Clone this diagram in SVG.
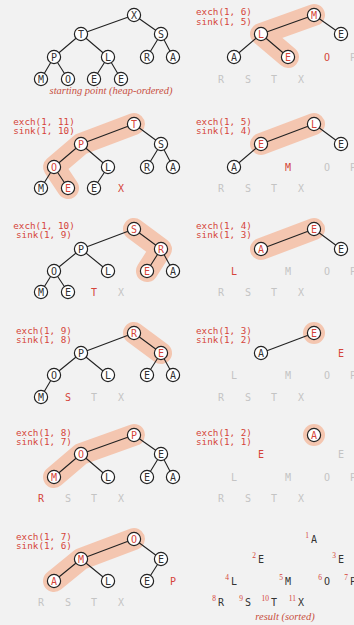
<svg xmlns="http://www.w3.org/2000/svg" width="354" height="625" viewBox="0 0 354 625">
<style>
.bg{fill:#f2f2f2}
.hl{fill:none;stroke:#f4c6b0;stroke-width:22;stroke-linecap:round;stroke-linejoin:round}
.hlc{fill:#f4c6b0}
.e{fill:none;stroke:#222;stroke-width:1.1}
.n circle{fill:#fff;stroke:#222;stroke-width:1.2}
text{font-family:"DejaVu Sans Mono","Liberation Mono",monospace;font-size:10px;text-anchor:middle}
.k{fill:#333}
.r{fill:#d5453a}
.g{fill:#c4c4c4}
.lab{fill:#d5453a;font-size:9.3px}
.cap{font-family:"Liberation Serif",serif;font-style:italic;font-size:10.5px;fill:#c8503f}
.num{font-family:"Liberation Serif",serif;font-size:7.5px;fill:#d5453a;text-anchor:end}
</style>
<rect class="bg" x="0" y="0" width="354" height="625"/>
<g id="highlights">
<path class="hl" d="M134 124L81 144L54 167L68 188"/>
<path class="hl" d="M134 229L161 249L147 271"/>
<path class="hl" d="M134 333L161 353"/>
<path class="hl" d="M134 435L81 454L54 477"/>
<path class="hl" d="M134 539L81 559L54 581"/>
<path class="hl" d="M314 15L261 34L288 57"/>
<path class="hl" d="M314 124L261 144"/>
<path class="hl" d="M314 229L261 249"/>
<circle class="hlc" cx="314" cy="333" r="11"/>
<circle class="hlc" cx="314" cy="435" r="11"/>
</g>
<g id="connectors">
<path class="e" d="M134 15L81 34M134 15L161 34M81 34L54 57M81 34L108 57M161 34L147 57M161 34L173 57M54 57L41 79M54 57L68 79M108 57L94 79M108 57L121 79"/>
<path class="e" d="M134 124L81 144M134 124L161 144M81 144L54 167M81 144L108 167M161 144L147 167M161 144L173 167M54 167L41 188M54 167L68 188M108 167L94 188"/>
<path class="e" d="M134 229L81 249M134 229L161 249M81 249L54 271M81 249L108 271M161 249L147 271M161 249L173 271M54 271L41 292M54 271L68 292"/>
<path class="e" d="M134 333L81 353M134 333L161 353M81 353L54 375M81 353L108 375M161 353L147 375M161 353L173 375M54 375L41 397"/>
<path class="e" d="M134 435L81 454M134 435L161 454M81 454L54 477M81 454L108 477M161 454L147 477M161 454L173 477"/>
<path class="e" d="M134 539L81 559M134 539L161 559M81 559L54 581M81 559L108 581M161 559L147 581"/>
<path class="e" d="M314 15L261 34M314 15L341 34M261 34L234 57M261 34L288 57"/>
<path class="e" d="M314 124L261 144M314 124L341 144M261 144L234 167"/>
<path class="e" d="M314 229L261 249M314 229L341 249"/>
<path class="e" d="M314 333L261 353"/>
</g>
<!-- Row 1 left: starting point -->
<g id="r1l">
<g id="r1l-1" class="n"><circle cx="134" cy="15" r="6.6"/><text class="k" x="134" y="18.6">X</text></g>
<g id="r1l-2" class="n"><circle cx="81" cy="34" r="6.6"/><text class="k" x="81" y="37.6">T</text></g>
<g id="r1l-3" class="n"><circle cx="161" cy="34" r="6.6"/><text class="k" x="161" y="37.6">S</text></g>
<g id="r1l-4" class="n"><circle cx="54" cy="57" r="6.6"/><text class="k" x="54" y="60.6">P</text></g>
<g id="r1l-5" class="n"><circle cx="108" cy="57" r="6.6"/><text class="k" x="108" y="60.6">L</text></g>
<g id="r1l-6" class="n"><circle cx="147" cy="57" r="6.6"/><text class="k" x="147" y="60.6">R</text></g>
<g id="r1l-7" class="n"><circle cx="173" cy="57" r="6.6"/><text class="k" x="173" y="60.6">A</text></g>
<g id="r1l-8" class="n"><circle cx="41" cy="79" r="6.6"/><text class="k" x="41" y="82.6">M</text></g>
<g id="r1l-9" class="n"><circle cx="68" cy="79" r="6.6"/><text class="k" x="68" y="82.6">O</text></g>
<g id="r1l-10" class="n"><circle cx="94" cy="79" r="6.6"/><text class="k" x="94" y="82.6">E</text></g>
<g id="r1l-11" class="n"><circle cx="121" cy="79" r="6.6"/><text class="k" x="121" y="82.6">E</text></g>
<text class="cap" x="111" y="94">starting point (heap-ordered)</text>
</g>
<!-- Row 2 left -->
<g id="r2l">
<text class="lab" x="44" y="125">exch(1, 11)</text>
<text class="lab" x="44" y="134">sink(1, 10)</text>
<g id="r2l-1" class="n"><circle cx="134" cy="124" r="6.6"/><text class="r" x="134" y="127.6">T</text></g>
<g id="r2l-2" class="n"><circle cx="81" cy="144" r="6.6"/><text class="r" x="81" y="147.6">P</text></g>
<g id="r2l-3" class="n"><circle cx="161" cy="144" r="6.6"/><text class="k" x="161" y="147.6">S</text></g>
<g id="r2l-4" class="n"><circle cx="54" cy="167" r="6.6"/><text class="r" x="54" y="170.6">O</text></g>
<g id="r2l-5" class="n"><circle cx="108" cy="167" r="6.6"/><text class="k" x="108" y="170.6">L</text></g>
<g id="r2l-6" class="n"><circle cx="147" cy="167" r="6.6"/><text class="k" x="147" y="170.6">R</text></g>
<g id="r2l-7" class="n"><circle cx="173" cy="167" r="6.6"/><text class="k" x="173" y="170.6">A</text></g>
<g id="r2l-8" class="n"><circle cx="41" cy="188" r="6.6"/><text class="k" x="41" y="191.6">M</text></g>
<g id="r2l-9" class="n"><circle cx="68" cy="188" r="6.6"/><text class="r" x="68" y="191.6">E</text></g>
<g id="r2l-10" class="n"><circle cx="94" cy="188" r="6.6"/><text class="k" x="94" y="191.6">E</text></g>
<text class="r" x="121" y="191.6">X</text>
</g>
<!-- Row 3 left -->
<g id="r3l">
<text class="lab" x="44" y="229">exch(1, 10)</text>
<text class="lab" x="44" y="238">sink(1, 9)</text>
<g id="r3l-1" class="n"><circle cx="134" cy="229" r="6.6"/><text class="r" x="134" y="232.6">S</text></g>
<g id="r3l-2" class="n"><circle cx="81" cy="249" r="6.6"/><text class="k" x="81" y="252.6">P</text></g>
<g id="r3l-3" class="n"><circle cx="161" cy="249" r="6.6"/><text class="r" x="161" y="252.6">R</text></g>
<g id="r3l-4" class="n"><circle cx="54" cy="271" r="6.6"/><text class="k" x="54" y="274.6">O</text></g>
<g id="r3l-5" class="n"><circle cx="108" cy="271" r="6.6"/><text class="k" x="108" y="274.6">L</text></g>
<g id="r3l-6" class="n"><circle cx="147" cy="271" r="6.6"/><text class="r" x="147" y="274.6">E</text></g>
<g id="r3l-7" class="n"><circle cx="173" cy="271" r="6.6"/><text class="k" x="173" y="274.6">A</text></g>
<g id="r3l-8" class="n"><circle cx="41" cy="292" r="6.6"/><text class="k" x="41" y="295.6">M</text></g>
<g id="r3l-9" class="n"><circle cx="68" cy="292" r="6.6"/><text class="k" x="68" y="295.6">E</text></g>
<text class="r" x="94" y="295.6">T</text>
<text class="g" x="121" y="295.6">X</text>
</g>
<!-- Row 4 left -->
<g id="r4l">
<text class="lab" x="44" y="334">exch(1, 9)</text>
<text class="lab" x="44" y="343">sink(1, 8)</text>
<g id="r4l-1" class="n"><circle cx="134" cy="333" r="6.6"/><text class="r" x="134" y="336.6">R</text></g>
<g id="r4l-2" class="n"><circle cx="81" cy="353" r="6.6"/><text class="k" x="81" y="356.6">P</text></g>
<g id="r4l-3" class="n"><circle cx="161" cy="353" r="6.6"/><text class="r" x="161" y="356.6">E</text></g>
<g id="r4l-4" class="n"><circle cx="54" cy="375" r="6.6"/><text class="k" x="54" y="378.6">O</text></g>
<g id="r4l-5" class="n"><circle cx="108" cy="375" r="6.6"/><text class="k" x="108" y="378.6">L</text></g>
<g id="r4l-6" class="n"><circle cx="147" cy="375" r="6.6"/><text class="k" x="147" y="378.6">E</text></g>
<g id="r4l-7" class="n"><circle cx="173" cy="375" r="6.6"/><text class="k" x="173" y="378.6">A</text></g>
<g id="r4l-8" class="n"><circle cx="41" cy="397" r="6.6"/><text class="k" x="41" y="400.6">M</text></g>
<text class="r" x="68" y="400.6">S</text>
<text class="g" x="94" y="400.6">T</text>
<text class="g" x="121" y="400.6">X</text>
</g>
<!-- Row 5 left -->
<g id="r5l">
<text class="lab" x="44" y="436">exch(1, 8)</text>
<text class="lab" x="44" y="445">sink(1, 7)</text>
<g id="r5l-1" class="n"><circle cx="134" cy="435" r="6.6"/><text class="r" x="134" y="438.6">P</text></g>
<g id="r5l-2" class="n"><circle cx="81" cy="454" r="6.6"/><text class="r" x="81" y="457.6">O</text></g>
<g id="r5l-3" class="n"><circle cx="161" cy="454" r="6.6"/><text class="k" x="161" y="457.6">E</text></g>
<g id="r5l-4" class="n"><circle cx="54" cy="477" r="6.6"/><text class="r" x="54" y="480.6">M</text></g>
<g id="r5l-5" class="n"><circle cx="108" cy="477" r="6.6"/><text class="k" x="108" y="480.6">L</text></g>
<g id="r5l-6" class="n"><circle cx="147" cy="477" r="6.6"/><text class="k" x="147" y="480.6">E</text></g>
<g id="r5l-7" class="n"><circle cx="173" cy="477" r="6.6"/><text class="k" x="173" y="480.6">A</text></g>
<text class="r" x="41" y="501.6">R</text>
<text class="g" x="68" y="501.6">S</text>
<text class="g" x="94" y="501.6">T</text>
<text class="g" x="121" y="501.6">X</text>
</g>
<!-- Row 6 left -->
<g id="r6l">
<text class="lab" x="44" y="540">exch(1, 7)</text>
<text class="lab" x="44" y="549">sink(1, 6)</text>
<g id="r6l-1" class="n"><circle cx="134" cy="539" r="6.6"/><text class="r" x="134" y="542.6">O</text></g>
<g id="r6l-2" class="n"><circle cx="81" cy="559" r="6.6"/><text class="r" x="81" y="562.6">M</text></g>
<g id="r6l-3" class="n"><circle cx="161" cy="559" r="6.6"/><text class="k" x="161" y="562.6">E</text></g>
<g id="r6l-4" class="n"><circle cx="54" cy="581" r="6.6"/><text class="r" x="54" y="584.6">A</text></g>
<g id="r6l-5" class="n"><circle cx="108" cy="581" r="6.6"/><text class="k" x="108" y="584.6">L</text></g>
<g id="r6l-6" class="n"><circle cx="147" cy="581" r="6.6"/><text class="k" x="147" y="584.6">E</text></g>
<text class="r" x="173" y="584.6">P</text>
<text class="g" x="41" y="605.6">R</text>
<text class="g" x="68" y="605.6">S</text>
<text class="g" x="94" y="605.6">T</text>
<text class="g" x="121" y="605.6">X</text>
</g>
<!-- Row 1 right -->
<g id="r1r">
<text class="lab" x="224" y="15">exch(1, 6)</text>
<text class="lab" x="224" y="24.5">sink(1, 5)</text>
<g id="r1r-1" class="n"><circle cx="314" cy="15" r="6.6"/><text class="r" x="314" y="18.6">M</text></g>
<g id="r1r-2" class="n"><circle cx="261" cy="34" r="6.6"/><text class="r" x="261" y="37.6">L</text></g>
<g id="r1r-3" class="n"><circle cx="341" cy="34" r="6.6"/><text class="k" x="341" y="37.6">E</text></g>
<g id="r1r-4" class="n"><circle cx="234" cy="57" r="6.6"/><text class="k" x="234" y="60.6">A</text></g>
<g id="r1r-5" class="n"><circle cx="288" cy="57" r="6.6"/><text class="r" x="288" y="60.6">E</text></g>
<text class="r" x="327" y="60.6">O</text>
<text class="g" x="353" y="60.6">P</text>
<text class="g" x="221" y="82.6">R</text>
<text class="g" x="248" y="82.6">S</text>
<text class="g" x="274" y="82.6">T</text>
<text class="g" x="301" y="82.6">X</text>
</g>
<!-- Row 2 right -->
<g id="r2r">
<text class="lab" x="224" y="125">exch(1, 5)</text>
<text class="lab" x="224" y="134">sink(1, 4)</text>
<g id="r2r-1" class="n"><circle cx="314" cy="124" r="6.6"/><text class="r" x="314" y="127.6">L</text></g>
<g id="r2r-2" class="n"><circle cx="261" cy="144" r="6.6"/><text class="r" x="261" y="147.6">E</text></g>
<g id="r2r-3" class="n"><circle cx="341" cy="144" r="6.6"/><text class="k" x="341" y="147.6">E</text></g>
<g id="r2r-4" class="n"><circle cx="234" cy="167" r="6.6"/><text class="k" x="234" y="170.6">A</text></g>
<text class="r" x="288" y="170.6">M</text>
<text class="g" x="327" y="170.6">O</text>
<text class="g" x="353" y="170.6">P</text>
<text class="g" x="221" y="191.6">R</text>
<text class="g" x="248" y="191.6">S</text>
<text class="g" x="274" y="191.6">T</text>
<text class="g" x="301" y="191.6">X</text>
</g>
<!-- Row 3 right -->
<g id="r3r">
<text class="lab" x="224" y="229">exch(1, 4)</text>
<text class="lab" x="224" y="238">sink(1, 3)</text>
<g id="r3r-1" class="n"><circle cx="314" cy="229" r="6.6"/><text class="r" x="314" y="232.6">E</text></g>
<g id="r3r-2" class="n"><circle cx="261" cy="249" r="6.6"/><text class="r" x="261" y="252.6">A</text></g>
<g id="r3r-3" class="n"><circle cx="341" cy="249" r="6.6"/><text class="k" x="341" y="252.6">E</text></g>
<text class="r" x="234" y="274.6">L</text>
<text class="g" x="288" y="274.6">M</text>
<text class="g" x="327" y="274.6">O</text>
<text class="g" x="353" y="274.6">P</text>
<text class="g" x="221" y="295.6">R</text>
<text class="g" x="248" y="295.6">S</text>
<text class="g" x="274" y="295.6">T</text>
<text class="g" x="301" y="295.6">X</text>
</g>
<!-- Row 4 right -->
<g id="r4r">
<text class="lab" x="224" y="334">exch(1, 3)</text>
<text class="lab" x="224" y="343">sink(1, 2)</text>
<g id="r4r-1" class="n"><circle cx="314" cy="333" r="6.6"/><text class="r" x="314" y="336.6">E</text></g>
<g id="r4r-2" class="n"><circle cx="261" cy="353" r="6.6"/><text class="k" x="261" y="356.6">A</text></g>
<text class="r" x="341" y="356.6">E</text>
<text class="g" x="234" y="378.6">L</text>
<text class="g" x="288" y="378.6">M</text>
<text class="g" x="327" y="378.6">O</text>
<text class="g" x="353" y="378.6">P</text>
<text class="g" x="221" y="400.6">R</text>
<text class="g" x="248" y="400.6">S</text>
<text class="g" x="274" y="400.6">T</text>
<text class="g" x="301" y="400.6">X</text>
</g>
<!-- Row 5 right -->
<g id="r5r">
<text class="lab" x="224" y="436">exch(1, 2)</text>
<text class="lab" x="224" y="445">sink(1, 1)</text>
<g id="r5r-1" class="n"><circle cx="314" cy="435" r="6.6"/><text class="r" x="314" y="438.6">A</text></g>
<text class="r" x="261" y="457.6">E</text>
<text class="g" x="341" y="457.6">E</text>
<text class="g" x="234" y="480.6">L</text>
<text class="g" x="288" y="480.6">M</text>
<text class="g" x="327" y="480.6">O</text>
<text class="g" x="353" y="480.6">P</text>
<text class="g" x="221" y="501.6">R</text>
<text class="g" x="248" y="501.6">S</text>
<text class="g" x="274" y="501.6">T</text>
<text class="g" x="301" y="501.6">X</text>
</g>
<!-- Row 6 right: sorted result -->
<g id="r6r">
<text class="k" x="314" y="542.6">A</text><text class="num" x="309" y="538">1</text>
<text class="k" x="261" y="562.6">E</text><text class="num" x="256" y="558">2</text>
<text class="k" x="341" y="562.6">E</text><text class="num" x="336" y="558">3</text>
<text class="k" x="234" y="584.6">L</text><text class="num" x="229" y="580">4</text>
<text class="k" x="288" y="584.6">M</text><text class="num" x="283" y="580">5</text>
<text class="k" x="327" y="584.6">O</text><text class="num" x="322" y="580">6</text>
<text class="k" x="353" y="584.6">P</text><text class="num" x="348" y="580">7</text>
<text class="k" x="221" y="605.6">R</text><text class="num" x="216" y="601">8</text>
<text class="k" x="248" y="605.6">S</text><text class="num" x="243" y="601">9</text>
<text class="k" x="274" y="605.6">T</text><text class="num" x="269" y="601">10</text>
<text class="k" x="301" y="605.6">X</text><text class="num" x="296" y="601">11</text>
<text class="cap" x="285" y="620">result (sorted)</text>
</g>
</svg>
